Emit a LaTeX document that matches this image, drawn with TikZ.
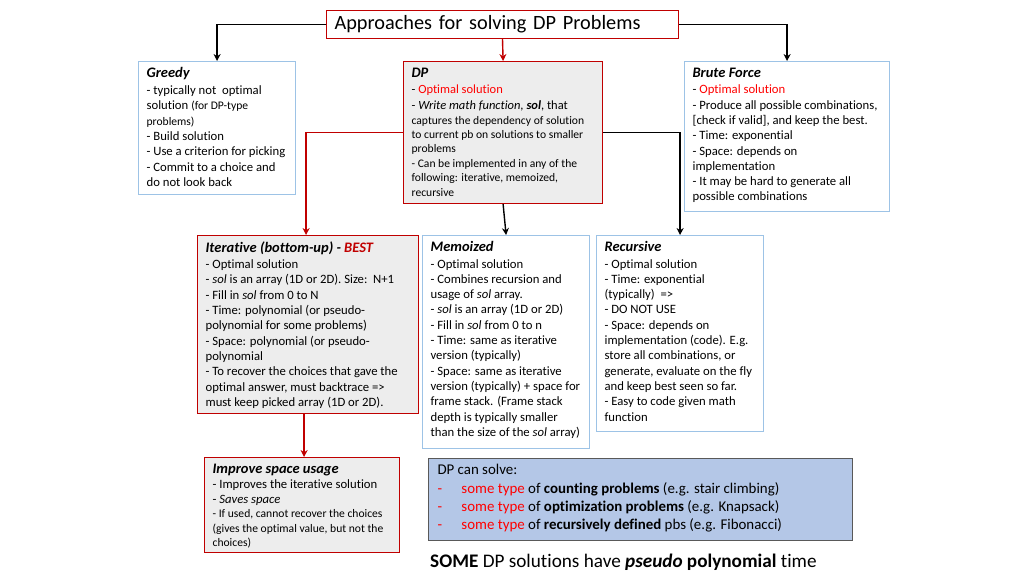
\documentclass[tikz,border=0pt]{standalone}
\usepackage{fontspec}
\setmainfont{Carlito}[Ligatures=NoCommon]
\usetikzlibrary{arrows.meta}

\definecolor{dpred}{RGB}{192,0,0}
\definecolor{optred}{RGB}{255,0,0}
\definecolor{cardblue}{RGB}{157,195,230}
\definecolor{cardgray}{RGB}{237,237,237}
\definecolor{solveblue}{RGB}{180,199,231}
\definecolor{solveline}{RGB}{89,89,89}

\newcommand{\headfont}{\fontsize{14.5}{15.3}\selectfont\bfseries\itshape}
\newcommand{\bodyfont}{\normalfont\fontsize{12.7}{15.3}\selectfont}
\newcommand{\smallfont}{\fontsize{11.6}{14.2}\selectfont}
\newcommand{\cardbody}[3]{\parbox[t][#2][t]{#1}{\raggedright\leftskip=8pt #3}}

\tikzset{every picture/.append style={scale=1}}
\tikzset{
  card/.style={anchor=north west, inner xsep=0pt, inner ysep=6pt, line width=1.2pt},
  redcard/.style={card, draw=dpred, fill=cardgray},
  bluecard/.style={card, draw=cardblue, fill=white},
  arr/.style={-{Stealth[length=7pt,width=7pt]}, line width=1.4pt},
}

\begin{document}
\begin{tikzpicture}[x=1pt,y=-1pt]
  \useasboundingbox (0,0) rectangle (1024,576);

  \node[draw=dpred, line width=1pt, anchor=north west, text width=336pt, inner xsep=8pt,
        minimum height=28pt, align=left, font=\fontsize{20.3}{22}\selectfont]
        (title) at (326,10) {Approaches for solving DP Problems};

  \node[bluecard] (greedy) at (138,61) {\cardbody{157pt}{121pt}{\bodyfont
    {\headfont Greedy}\\[1.5pt]
    - typically not\ \ optimal\\
    solution {\fontsize{11.6}{15.3}\selectfont (for DP-type}\\
    {\fontsize{11.6}{15.3}\selectfont problems)}\\
    - Build solution\\
    - Use a criterion for picking\\
    - Commit to a choice and\\
    do not look back}};

  \node[redcard] (dp) at (403,61) {\cardbody{199pt}{130pt}{\fontsize{11.6}{14.4}\selectfont
    {\headfont DP}\\[2.5pt]
    {\fontsize{12.5}{14.4}\selectfont - \textcolor{optred}{Optimal solution}}\\[0.8pt]
    {\fontsize{12.5}{14.4}\selectfont - \textit{Write math function, \textbf{sol}}, that}\\[0.6pt]
    captures the dependency of solution\\
    to current pb on solutions to smaller\\
    problems\\
    - Can be implemented in any of the\\
    following: iterative, memoized,\\
    recursive}};

  \node[bluecard] (brute) at (684,61) {\cardbody{205pt}{138pt}{\bodyfont
    {\headfont Brute Force}\\[1.5pt]
    - \textcolor{optred}{Optimal solution}\\
    - Produce all possible combinations,\\
    {[}check if valid{]}, and keep the best.\\
    - Time: exponential\\
    - Space: depends on\\
    implementation\\
    - It may be hard to generate all\\
    possible combinations}};

  \node[redcard] (iter) at (197,235) {\cardbody{221pt}{166pt}{\bodyfont
    {\headfont Iterative (bottom-up) - \textcolor{dpred}{BEST}}\\[1pt]
    - Optimal solution\\
    - \textit{sol} is an array (1D or 2D). Size:\ \ N+1\\
    - Fill in \textit{sol} from 0 to N\\
    - Time: polynomial (or pseudo-\\
    polynomial for some problems)\\
    - Space: polynomial (or pseudo-\\
    polynomial\\
    - To recover the choices that gave the\\
    optimal answer, must backtrace =>\\
    must keep picked array (1D or 2D).}};

  \node[bluecard] (memo) at (422,235) {\cardbody{167pt}{201pt}{\bodyfont
    {\headfont Memoized}\\[1pt]
    - Optimal solution\\
    - Combines recursion and\\
    usage of \textit{sol} array.\\
    - \textit{sol} is an array (1D or 2D)\\
    - Fill in \textit{sol} from 0 to n\\
    - Time: same as iterative\\
    version (typically)\\
    - Space: same as iterative\\
    version (typically) + space for\\
    frame stack. (Frame stack\\
    depth is typically smaller\\
    than the size of the \textit{sol} array)}};

  \node[bluecard] (rec) at (596,235) {\cardbody{167pt}{184pt}{\bodyfont
    {\headfont Recursive}\\[1pt]
    - Optimal solution\\
    - Time: exponential\\
    (typically)\ \ =>\\
    - DO NOT USE\\
    - Space: depends on\\
    implementation (code). E.g.\\
    store all combinations, or\\
    generate, evaluate on the fly\\
    and keep best seen so far.\\
    - Easy to code given math\\
    function}};

  \node[redcard] (improve) at (204,457) {\cardbody{195pt}{83pt}{\normalfont\fontsize{12.7}{14.8}\selectfont
    {\headfont Improve space usage}\\[1pt]
    - Improves the iterative solution\\
    - \textit{Saves space}\\
    {\smallfont - If used, cannot recover the choices\\
    (gives the optimal value, but not the\\
    choices)}}};

  \node[card, draw=solveline, fill=solveblue, line width=1pt]
    (solve) at (428,458) {\cardbody{424pt}{70pt}{\leftskip=9pt\fontsize{14.9}{18.3}\selectfont
    DP can solve:\\
    \textcolor{optred}{\makebox[24pt][l]{-}some type} of \textbf{counting problems} (e.g. stair climbing)\\
    \textcolor{optred}{\makebox[24pt][l]{-}some type} of \textbf{optimization problems} (e.g. Knapsack)\\
    \textcolor{optred}{\makebox[24pt][l]{-}some type} of \textbf{recursively defined} pbs (e.g. Fibonacci)}};

  \node[anchor=base west, inner sep=0pt, font=\fontsize{19.2}{22}\selectfont]
    (pseudo) at (430,567) {\textbf{SOME} DP solutions have \textbf{\textit{pseudo}} \textbf{polynomial} time};

  % connectors
  \draw[arr] (title.west) -| (greedy.north);
  \draw[arr] (title.east) -| (brute.north);
  \draw[arr, dpred] (title.south) -- (dp.north);
  \draw[arr, dpred] (dp.west) -| ([xshift=-2pt]iter.north);
  \draw[arr] (dp.south) -- (memo.north);
  \draw[arr] (dp.east) -| (rec.north);
  \draw[arr, dpred] ([xshift=-4pt]iter.south) -- ([xshift=-4pt]iter.south |- improve.north);
\end{tikzpicture}
\end{document}
